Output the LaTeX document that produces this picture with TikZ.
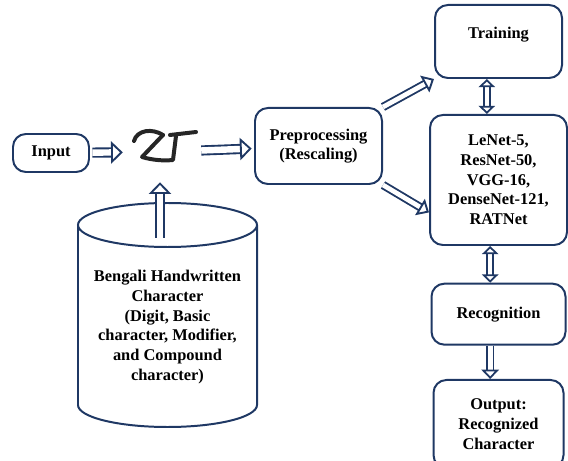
\documentclass[tikz,border=0pt]{standalone}
\usepackage{fontspec}
\setmainfont{Liberation Serif}
\usetikzlibrary{arrows.meta, positioning}
\definecolor{navy}{RGB}{31,56,100}
\def\boxfont{\bfseries\fontsize{14}{16.8}\selectfont}
\tikzstyle{process} = [rectangle, rounded corners=11pt, draw=navy, line width=1.7pt, align=center, font=\boxfont]
\tikzstyle{dbtext} = [align=center, font=\boxfont]
\tikzstyle{bigarrow} = [draw=navy, line width=1.6pt, double=white, double distance=5.5pt, -{Triangle[open, length=10pt, width=19pt, fill=white, line width=1.6pt]}]
\tikzstyle{smallarrow} = [draw=navy, line width=1.5pt, double=white, double distance=3.5pt, {Triangle[open, length=7pt, width=14pt, fill=white, line width=1.5pt]}-{Triangle[open, length=7pt, width=14pt, fill=white, line width=1.5pt]}]
\tikzstyle{pen} = [line width=3.4pt, black!85, line cap=round, line join=round]

\begin{document}
\begin{tikzpicture}[x=0.03cm, y=-0.03cm, node distance=1cm]
  \clip (0,0) rectangle (568,461);

  \node (input) [process, minimum width=2.28cm, minimum height=1.14cm] at (51,153) {Input};
  \node (char) [minimum width=2.34cm, minimum height=1.8cm] at (162,152) {};
  \node (prep) [process, minimum width=3.81cm, minimum height=2.28cm] at (318.5,146) {Preprocessing\\(Rescaling)};

  \node (nets) [process, minimum width=4.11cm, minimum height=3.9cm] at (498.5,180) {LeNet-5,\\ResNet-50,\\VGG-16,\\DenseNet-121,\\RATNet};
  \node (train) [process, above=1.05cm of nets, minimum width=3.81cm, minimum height=2.19cm, text depth=0.5cm] {Training};
  \node (recog) [process, below=1.1cm of nets, minimum width=4.02cm, minimum height=1.83cm] {Recognition};
  \node (output) [process, below=1.0cm of recog, minimum width=3.9cm, minimum height=2.64cm] {Output:\\Recognized\\Character};

  % database cylinder
  \draw [navy, line width=1.7pt] (78,225) -- (78,405)
    arc[start angle=180, end angle=360, x radius=2.685cm, y radius=0.66cm] -- (257,225)
    arc[start angle=0, end angle=180, x radius=2.685cm, y radius=0.66cm]
    arc[start angle=180, end angle=360, x radius=2.685cm, y radius=0.66cm];
  \node (db) [dbtext] at (167.5,327) {Bengali Handwritten\\Character\\(Digit, Basic\\character, Modifier,\\and Compound\\character)};
  \coordinate (dbtop) at (160,238);

  % handwritten sample
  \draw [pen] (134,141) .. controls (137,130) and (152,128) .. (163,135);
  \draw [pen] (163,135) -- (142,157) .. controls (152,160) and (163,161) .. (173,160) -- (176,136);
  \draw [pen] (170,135) -- (196,132);

  \draw [bigarrow, shorten <=2pt] (input) -- (char);
  \draw [bigarrow, shorten >=2pt] (char) -- (prep);
  \draw [bigarrow] (dbtop) -- (dbtop |- char.south);
  \draw [bigarrow, double distance=4pt, -{Triangle[open, length=9pt, width=16pt, fill=white, line width=1.6pt]}] (prep.north east) -- (train.south west);
  \draw [bigarrow, double distance=4pt, -{Triangle[open, length=9pt, width=16pt, fill=white, line width=1.6pt]}] (prep.south east) -- (nets.205);

  \draw [smallarrow] ([xshift=-0.35cm]train.south) -- ([xshift=-0.35cm]train.south |- nets.north);
  \draw [smallarrow] ([xshift=-0.25cm]nets.south) -- ([xshift=-0.25cm]nets.south |- recog.north);
  \draw [bigarrow, double distance=4pt, -{Triangle[open, length=8pt, width=15pt, fill=white, line width=1.5pt]}] ([xshift=-0.25cm]recog.south) -- ([xshift=-0.25cm]recog.south |- output.north);

\end{tikzpicture}
\end{document}
